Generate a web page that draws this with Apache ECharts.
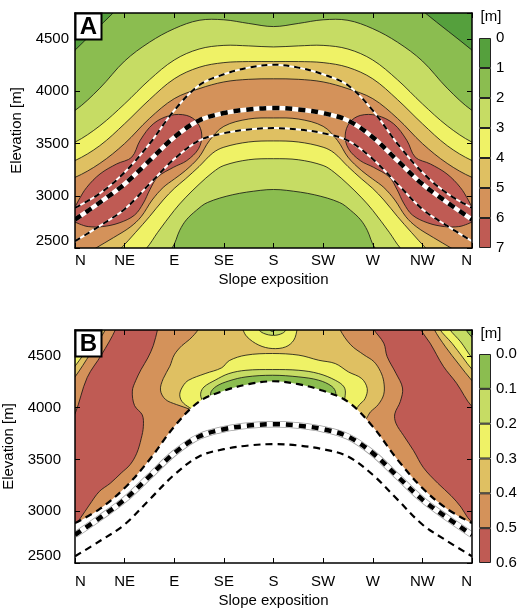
<!DOCTYPE html>
<html>
<head>
<meta charset="utf-8">
<script src="https://cdn.jsdelivr.net/npm/echarts@6/dist/echarts.min.js"></script>
<style>
  html, body { margin: 0; padding: 0; background: #fff; }
  #chart { width: 518px; height: 608px; }
</style>
</head>
<body>
<div id="chart"></div>
<script>
// axis text
var expoLabels = ['N', 'NE', 'E', 'SE', 'S', 'SW', 'W', 'NW', 'N'];
var elevTicks = [2500, 3000, 3500, 4000, 4500];
var legendA = ['0', '1', '2', '3', '4', '5', '6', '7'];
var legendB = ['0.0', '0.1', '0.2', '0.3', '0.4', '0.5', '0.6'];
var coloursA = ['#55a03d', '#8bbd50', '#c6dc64', '#eff266', '#dfc062', '#d4925a', '#bf5b54'];
var coloursB = ['#8bbd50', '#c6dc64', '#eff266', '#dfc062', '#d4925a', '#bf5b54'];

// dashed lines [exposition deg, elevation m], same in both panels
var ridgeLine = [[0,2772],[22.5,2936],[45,3112],[67.5,3336],[90,3561],[112.5,3721],[135,3792],[157.5,3827],[180,3840],[202.5,3827],[225,3792],[247.5,3721],[270,3561],[292.5,3336],[315,3112],[337.5,2936],[360,2772]];
var upperLine = [[0,2885],[22.5,3022],[45,3224],[67.5,3497],[90,3817],[112.5,4058],[135,4163],[157.5,4227],[180,4255],[202.5,4227],[225,4163],[247.5,4058],[270,3817],[292.5,3497],[315,3224],[337.5,3022],[360,2885]];
var lowerLine = [[0,2565],[22.5,2712],[45,2872],[67.5,3112],[90,3352],[112.5,3529],[135,3599],[157.5,3635],[180,3648],[202.5,3635],[225,3599],[247.5,3529],[270,3352],[292.5,3112],[315,2872],[337.5,2712],[360,2565]];

// panel A contours (upper and lower branch of each level)
var a1West = [[-6,4330],[0,4394],[35,4755],[40,4810],[-6,4810]];
var a1East = [[312,4810],[317,4755],[360,4394],[366,4330],[366,4810]];
var a2Up = [[0,3817],[22.5,4030],[45,4290],[67.5,4470],[90,4600],[112.5,4680],[135,4685],[157.5,4650],[180,4620],[202.5,4650],[225,4685],[247.5,4680],[270,4600],[292.5,4470],[315,4290],[337.5,4030],[360,3817]];
var a3Up = [[0,3513],[22.5,3670],[45,3880],[67.5,4110],[90,4300],[112.5,4405],[135,4440],[157.5,4435],[180,4425],[202.5,4435],[225,4440],[247.5,4405],[270,4300],[292.5,4110],[315,3880],[337.5,3670],[360,3513]];
var a4Up = [[0,3337],[22.5,3480],[45,3690],[67.5,3920],[90,4120],[112.5,4230],[135,4275],[157.5,4285],[180,4285],[202.5,4285],[225,4275],[247.5,4230],[270,4120],[292.5,3920],[315,3690],[337.5,3480],[360,3337]];
var a5Up = [[0,3176],[22.5,3310],[45,3500],[67.5,3740],[90,3930],[112.5,4025],[135,4090],[157.5,4115],[180,4120],[202.5,4115],[225,4090],[247.5,4025],[270,3930],[292.5,3740],[315,3500],[337.5,3310],[360,3176]];
var a5Low = [[0,2380],[19,2500],[35,2600],[50,2700],[60,2800],[70,2960],[80,3080],[90,3160],[100,3240],[112.5,3370],[122,3530],[135,3665],[157.5,3735],[180,3745],[202.5,3735],[225,3665],[238,3530],[247.5,3370],[260,3240],[270,3160],[280,3080],[290,2960],[300,2800],[310,2700],[325,2600],[341,2500],[360,2380]];
var a4Low = [[0,2150],[30,2380],[42,2500],[55,2650],[67.5,2800],[80,2960],[90,3070],[100,3160],[112.5,3280],[125,3410],[135,3465],[157.5,3515],[180,3525],[202.5,3515],[225,3465],[235,3410],[247.5,3280],[260,3160],[270,3070],[280,2960],[292.5,2800],[305,2650],[318,2500],[330,2380],[360,2150]];
var a3Low = [[0,2000],[50,2350],[65,2500],[75,2650],[90,2860],[100,2980],[112.5,3110],[125,3225],[135,3290],[157.5,3345],[180,3355],[202.5,3345],[225,3290],[235,3225],[247.5,3110],[260,2980],[270,2860],[285,2650],[295,2500],[310,2350],[360,2000]];
var a2Low = [[0,1900],[70,2300],[88,2500],[95,2670],[101,2770],[110,2860],[120,2935],[143,3010],[168,3052],[180,3060],[192,3052],[217,3010],[240,2935],[250,2860],[259,2770],[265,2670],[272,2500],[290,2300],[360,1900]];
var a6West = [[-6,2780],[-2,2850],[3,2952],[10.6,3080],[22.7,3209],[37.8,3305],[51.4,3369],[59,3529],[71,3689],[86.2,3769],[101.4,3769],[111,3700],[115,3580],[112,3450],[101.4,3337],[89.2,3272],[75,3180],[68,3060],[62,2930],[54,2815],[40,2740],[25,2705],[12,2705],[4,2730],[-2,2760]];
var a6East = [[366,2780],[362,2850],[357,2952],[349.4,3080],[337.3,3209],[322.2,3305],[308.6,3369],[301,3529],[289,3689],[273.8,3769],[258.6,3769],[249,3700],[245,3580],[248,3450],[258.6,3337],[270.8,3272],[285,3180],[292,3060],[298,2930],[306,2815],[320,2740],[335,2705],[348,2705],[356,2730],[362,2760]];

// panel B contour regions
var bRedWest = [[37,4810],[37,4760],[24,4510],[11,4290],[0,3940],[-6,3850],[-6,2860],[1,2885],[5,2935],[13,3060],[22,3190],[32,3270],[42,3370],[50,3450],[56,3560],[60,3700],[62,3820],[61,3930],[54,4020],[52,4160],[55,4260],[60,4370],[66,4480],[71,4600],[75,4760],[76,4810]];
var bRedEast = [[270,4810],[270.7,4760],[280,4623],[283,4494],[291,4333],[297,4190],[295,4060],[290,3940],[291,3850],[298,3730],[307,3585],[316,3420],[329,3270],[341,3150],[350,3040],[356,2940],[361,2888],[366,2870],[366,4005],[360,4010],[346,4236],[334,4400],[322,4623],[313,4760],[312,4810]];
var bTanCentre = [[112,4810],[112,4760],[104,4660],[97,4600],[90,4510],[86,4400],[80,4280],[77.5,4170],[82,4080],[92,4030],[104,3985],[120,3900],[180,3800],[240,3900],[262,3880],[268,3960],[275,4030],[280,4130],[280,4250],[277,4350],[271,4445],[262,4510],[250,4607],[240,4760],[240,4810]];
var bYellowDome = [[112,3960],[104,4000],[97,4060],[95,4130],[98,4210],[103,4265],[118,4329],[133,4385],[140,4455],[155,4507],[179,4523],[203,4507],[221,4458],[236,4426],[248,4345],[260,4281],[265,4184],[263,4087],[258,4030],[254,3980],[248,3950],[180,3850]];
var bLightDome = [[120,4010],[115,4080],[114,4140],[117,4200],[127,4265],[139.5,4329],[155,4361],[179,4368],[203,4361],[221,4329],[236,4265],[244,4200],[245,4120],[242,4040],[180,3900]];
var bGreenDome = [[126,4060],[123,4140],[128,4205],[139.5,4258],[155,4297],[179,4313],[203,4297],[221,4265],[233,4205],[236.5,4140],[234,4060],[180,3950]];
var bLensYellow = [[151,4810],[152,4760],[156,4684],[166.7,4604],[178.8,4571],[191,4587],[198.4,4652],[201.5,4760],[202,4810]];
var bLensLight = [[165,4810],[166,4760],[171,4718],[180,4698],[188,4718],[192,4760],[193,4810]];
var bLensGreen = [[175,4810],[176,4760],[179,4735],[182,4760],[183,4810]];
var bTanNW = [[-6,4810],[29,4810],[28,4760],[14,4523],[0,4297],[-6,4230]];
var bYellowNW = [[-6,4810],[24,4810],[23,4760],[12,4580],[0,4400],[-6,4330]];
var bLightNW = [[-6,4810],[16,4810],[15,4760],[7,4630],[0,4530],[-6,4460]];
var bTanNE = [[366,4810],[325,4810],[325.5,4760],[336,4587],[348,4420],[360,4260],[366,4200]];
var bYellowNE = [[366,4810],[330,4810],[330.5,4760],[342,4620],[352,4480],[360,4370],[366,4320]];
var bLightNE = [[366,4810],[339,4810],[339.5,4760],[349.7,4636],[360,4480],[366,4420]];
var bGreenNE = [[366,4810],[353,4810],[354,4760],[360,4680],[366,4620]];

var FONT = '"Liberation Sans", Arial, sans-serif';

// closed region between an upper and a lower contour branch
function band(up, low) {
    var u0 = up[0][1], u1 = up[up.length - 1][1];
    var l0 = low[0][1], l1 = low[low.length - 1][1];
    return up.concat([[366, u1], [366, l1]], low.slice().reverse(), [[-6, l0], [-6, u0]]);
}
// white area below the upper dashed line (panel B)
var maskB = upperLine.concat([[366, upperLine[upperLine.length - 1][1]], [366, 2300], [-6, 2300], [-6, upperLine[0][1]]]);

var shapesA = [
    { pts: band(a2Up, a2Low), fill: coloursA[2] },
    { pts: band(a3Up, a3Low), fill: coloursA[3] },
    { pts: band(a4Up, a4Low), fill: coloursA[4] },
    { pts: band(a5Up, a5Low), fill: coloursA[5] },
    { pts: a6West, fill: coloursA[6] },
    { pts: a6East, fill: coloursA[6] },
    { pts: a1West, fill: coloursA[0] },
    { pts: a1East, fill: coloursA[0] },
    { pts: ridgeLine, line: '#fff', width: 4.5 },
    { pts: ridgeLine, line: '#000', width: 4.5, dash: [7, 6] },
    { pts: upperLine, line: '#fff', width: 2 },
    { pts: upperLine, line: '#000', width: 2, dash: [6, 5] },
    { pts: lowerLine, line: '#fff', width: 2 },
    { pts: lowerLine, line: '#000', width: 2, dash: [6, 5] }
];

var shapesB = [
    { pts: bRedWest, fill: coloursB[5] },
    { pts: bRedEast, fill: coloursB[5] },
    { pts: bTanCentre, fill: coloursB[3] },
    { pts: bYellowDome, fill: coloursB[2] },
    { pts: bLightDome, fill: coloursB[1] },
    { pts: bGreenDome, fill: coloursB[0] },
    { pts: bLensYellow, fill: coloursB[2] },
    { pts: bLensLight, fill: coloursB[1] },
    { pts: bLensGreen, fill: coloursB[0] },
    { pts: bTanNW, fill: coloursB[3] },
    { pts: bYellowNW, fill: coloursB[2] },
    { pts: bLightNW, fill: coloursB[1] },
    { pts: bTanNE, fill: coloursB[3] },
    { pts: bYellowNE, fill: coloursB[2] },
    { pts: bLightNE, fill: coloursB[1] },
    { pts: bGreenNE, fill: coloursB[0] },
    { pts: maskB, fill: '#fff', noStroke: true },
    { pts: ridgeLine, line: '#a0a0a0', width: 6.5 },
    { pts: ridgeLine, line: '#fff', width: 5 },
    { pts: ridgeLine, line: '#000', width: 4.5, dash: [7, 6] },
    { pts: upperLine, line: '#000', width: 2.2, dash: [7, 5] },
    { pts: lowerLine, line: '#000', width: 2.2, dash: [7, 5] }
];

function contourSeries(shapes, idx) {
    return {
        type: 'custom',
        xAxisIndex: idx,
        yAxisIndex: idx,
        clip: true,
        silent: true,
        data: shapes.map(function (s, i) { return [i, elevTicks[1]]; }),
        renderItem: function (params, api) {
            var s = shapes[params.dataIndex];
            var pts = s.pts.map(function (p) { return api.coord(p); });
            if (s.fill) {
                return {
                    type: 'polygon',
                    shape: { points: pts, smooth: 0.35 },
                    style: { fill: s.fill, stroke: s.noStroke ? 'none' : '#111', lineWidth: 0.8 }
                };
            }
            return {
                type: 'polyline',
                shape: { points: pts, smooth: 0.35 },
                style: { fill: 'none', stroke: s.line, lineWidth: s.width, lineDash: s.dash || null }
            };
        }
    };
}

var axisLine = { onZero: false, lineStyle: { color: '#000', width: 1.5 } };
var axisTick = { inside: true, length: 5, lineStyle: { color: '#000', width: 1 } };

function xAx(grid, pos, labels, margin, nameGap) {
    return {
        gridIndex: grid, type: 'value', min: 0, max: 360, interval: 45, position: pos, z: 5,
        axisLine: axisLine, axisTick: axisTick, splitLine: { show: false },
        axisLabel: {
            show: labels, margin: margin, color: '#000', fontSize: 15, fontFamily: FONT,
            alignMinLabel: 'left', alignMaxLabel: 'right',
            formatter: function (v) { return expoLabels[Math.round(v / 45)]; }
        },
        name: labels ? 'Slope exposition' : '', nameLocation: 'middle', nameGap: nameGap,
        nameTextStyle: { color: '#000', fontSize: 15, fontFamily: FONT }
    };
}
function yAx(grid, pos, labels, margin, nameGap) {
    return {
        gridIndex: grid, type: 'value', min: 2500, max: 4750, interval: 500, position: pos, z: 5,
        axisLine: axisLine, axisTick: axisTick, splitLine: { show: false },
        axisLabel: {
            show: labels, margin: margin, color: '#000', fontSize: 15, fontFamily: FONT,
            verticalAlignMinLabel: 'bottom',
            formatter: function (v) { return elevTicks.indexOf(v) >= 0 ? String(v) : ''; }
        },
        name: labels ? 'Elevation [m]' : '', nameLocation: 'middle', nameGap: nameGap,
        nameTextStyle: { color: '#000', fontSize: 15, fontFamily: FONT }
    };
}
function cbAx(grid, labels) {
    return {
        gridIndex: grid, type: 'value', min: 0, max: labels.length - 1, interval: 1, inverse: true,
        position: 'right', axisLine: { show: false }, axisTick: { show: false }, splitLine: { show: false },
        axisLabel: { margin: 5, color: '#000', fontSize: 15, fontFamily: FONT,
            formatter: function (v) { return labels[v]; } }
    };
}
function cbBars(colours, idx, stack) {
    return colours.map(function (c) {
        return {
            type: 'bar', xAxisIndex: idx, yAxisIndex: idx, stack: stack, barWidth: '100%', silent: true,
            data: [1], itemStyle: { color: c, borderColor: '#222', borderWidth: 1 }
        };
    });
}

var chart = echarts.init(document.getElementById('chart'), null, { renderer: 'canvas' });
chart.setOption({
    animation: false,
    textStyle: { fontFamily: FONT },
    grid: [
        { left: 75, top: 13, width: 397, height: 235, show: true, backgroundColor: coloursA[1], borderWidth: 0, outerBoundsMode: 'none' },
        { left: 75, top: 330, width: 397, height: 233, show: true, backgroundColor: coloursB[4], borderWidth: 0, outerBoundsMode: 'none' },
        { left: 479, top: 38, width: 12, height: 210, outerBoundsMode: 'none' },
        { left: 479, top: 354, width: 12, height: 209, outerBoundsMode: 'none' }
    ],
    xAxis: [
        xAx(0, 'bottom', true, 5, 24),
        xAx(1, 'bottom', true, 11, 30),
        xAx(0, 'top', false, 5, 0),
        xAx(1, 'top', false, 5, 0),
        { gridIndex: 2, type: 'category', data: [''], show: false },
        { gridIndex: 3, type: 'category', data: [''], show: false }
    ],
    yAxis: [
        yAx(0, 'left', true, 6, 44),
        yAx(1, 'left', true, 14, 59),
        yAx(0, 'right', false, 6, 0),
        yAx(1, 'right', false, 6, 0),
        cbAx(2, legendA),
        cbAx(3, legendB)
    ],
    graphic: [
        { type: 'rect', shape: { x: 75.5, y: 13.5, width: 26, height: 26 }, style: { fill: '#fff', stroke: '#000', lineWidth: 2 }, z: 10 },
        { type: 'text', x: 88.5, y: 27, style: { text: 'A', font: 'bold 24px ' + FONT, fill: '#000', align: 'center', verticalAlign: 'middle' }, z: 11 },
        { type: 'rect', shape: { x: 75.5, y: 330.5, width: 26, height: 26 }, style: { fill: '#fff', stroke: '#000', lineWidth: 2 }, z: 10 },
        { type: 'text', x: 88.5, y: 344, style: { text: 'B', font: 'bold 24px ' + FONT, fill: '#000', align: 'center', verticalAlign: 'middle' }, z: 11 },
        { type: 'text', x: 491, y: 17, style: { text: '[m]', font: '15px ' + FONT, fill: '#000', align: 'center', verticalAlign: 'middle' }, z: 11 },
        { type: 'text', x: 491, y: 334, style: { text: '[m]', font: '15px ' + FONT, fill: '#000', align: 'center', verticalAlign: 'middle' }, z: 11 }
    ],
    series: [contourSeries(shapesA, 0), contourSeries(shapesB, 1)]
        .concat(cbBars(coloursA, 4, 'cbA'), cbBars(coloursB, 5, 'cbB'))
});
</script>
</body>
</html>
